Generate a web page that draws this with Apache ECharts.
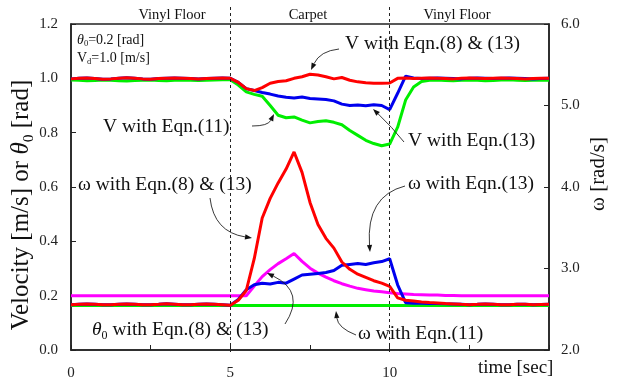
<!DOCTYPE html>
<html><head><meta charset="utf-8">
<script src="https://cdn.jsdelivr.net/npm/echarts@6/dist/echarts.min.js"></script>
<style>html,body{margin:0;padding:0;background:#fff}#c{width:619px;height:381px}</style>
</head><body><div id="c"></div>
<script>
// ---------- data ----------
const time = [0,0.25,0.5,0.75,1,1.25,1.5,1.75,2,2.25,2.5,2.75,3,3.25,3.5,3.75,4,4.25,4.5,4.75,5,5.25,5.5,5.75,6,6.25,6.5,6.75,7,7.25,7.5,7.75,8,8.25,8.5,8.75,9,9.25,9.5,9.75,10,10.25,10.5,10.75,11,11.25,11.5,11.75,12,12.25,12.5,12.75,13,13.25,13.5,13.75,14,14.25,14.5,14.75,15];

// V with Eqn.(8) & (13)  [m/s]
const vRed = [0.998,1.000,1.001,0.999,0.997,0.998,1.000,1.002,1.000,0.998,0.997,0.999,1.000,1.001,1.000,0.999,0.998,0.999,1.000,1.001,1.000,
  0.985,0.962,0.955,0.966,0.982,0.988,0.991,1.000,1.006,1.015,1.012,1.006,0.998,1.003,0.993,0.987,0.984,0.982,0.982,0.983,
  1.000,1.001,0.999,1.000,1.001,1.000,0.999,0.998,1.000,1.001,1.000,0.999,1.000,1.001,1.000,0.999,0.998,0.999,1.000,1.000];
// V with Eqn.(13)
const vBlue = [0.998,1.000,1.001,0.999,0.997,0.998,1.000,1.002,1.000,0.998,0.997,0.999,1.000,1.001,1.000,0.999,0.998,0.999,1.000,1.001,1.000,
  0.985,0.962,0.955,0.948,0.942,0.935,0.930,0.928,0.931,0.926,0.924,0.922,0.917,0.905,0.900,0.902,0.899,0.903,0.900,0.885,
  0.945,1.008,1.001,0.999,1.000,1.001,1.000,0.999,0.998,1.000,1.001,1.000,0.999,1.000,1.001,1.000,0.999,0.998,0.999,1.000];
// V with Eqn.(11)
const vGreen = [0.994,0.993,0.991,0.992,0.994,0.993,0.991,0.990,0.992,0.993,0.994,0.992,0.991,0.993,0.994,0.993,0.992,0.993,0.994,0.995,0.995,
  0.975,0.950,0.941,0.934,0.900,0.864,0.855,0.858,0.846,0.836,0.841,0.844,0.838,0.829,0.808,0.790,0.772,0.760,0.752,0.758,
  0.820,0.920,0.968,0.988,0.993,0.994,0.992,0.991,0.993,0.994,0.993,0.991,0.992,0.994,0.995,0.993,0.992,0.993,0.994,0.993];
// omega with Eqn.(8) & (13)  [rad/s]
const wRed = [2.555,2.560,2.565,2.560,2.555,2.555,2.560,2.565,2.562,2.556,2.555,2.560,2.566,2.562,2.556,2.555,2.560,2.565,2.560,2.555,2.550,
  2.610,2.730,3.120,3.620,3.860,4.050,4.220,4.430,4.180,3.810,3.540,3.370,3.250,3.080,2.990,2.930,2.890,2.850,2.820,2.780,
  2.640,2.610,2.600,2.590,2.582,2.576,2.570,2.565,2.560,2.556,2.560,2.565,2.560,2.555,2.556,2.562,2.560,2.555,2.558,2.560];
// omega with Eqn.(13)
const wBlue = [2.555,2.560,2.565,2.560,2.555,2.555,2.560,2.565,2.562,2.556,2.555,2.560,2.566,2.562,2.556,2.555,2.560,2.565,2.560,2.555,2.550,
  2.620,2.740,2.800,2.820,2.810,2.830,2.820,2.870,2.920,2.930,2.940,2.950,2.975,3.040,3.050,3.060,3.050,3.070,3.085,3.120,
  2.800,2.580,2.575,2.575,2.572,2.570,2.566,2.563,2.560,2.556,2.560,2.565,2.560,2.555,2.556,2.562,2.560,2.555,2.558,2.560];
// omega with Eqn.(11) (constant)
const wGreenTime = [0, 15];
const wGreen = [2.545, 2.545];
// theta0 with Eqn.(8) & (13)  [rad]
const theta = [0.2,0.2,0.2,0.2,0.2,0.2,0.2,0.2,0.2,0.2,0.2,0.2,0.2,0.2,0.2,0.2,0.2,0.2,0.2,0.2,0.2,0.2,0.2,
  0.235,0.270,0.296,0.318,0.336,0.355,0.326,0.301,0.283,0.268,0.255,0.244,0.235,0.227,0.222,0.217,0.214,0.211,
  0.208,0.206,0.204,0.203,0.202,0.202,0.201,0.201,0.2,0.2,0.2,0.2,0.2,0.2,0.2,0.2,0.2,0.2,0.2,0.2];

const regionBounds = [5, 10];
const xTickLabels = [0, 5, 10];

// ---------- helpers ----------
const pair = (xs, ys) => xs.map((x, i) => [x, ys[i]]);
const SERIF = '"Liberation Serif","DejaVu Serif",serif';
const richBase = {
  n: {fontFamily: SERIF, fontSize: 18, lineHeight: 22, fill: '#111'},
  i: {fontFamily: SERIF, fontSize: 18, lineHeight: 22, fontStyle: 'italic', fill: '#111'},
  s: {fontFamily: SERIF, fontSize: 11, lineHeight: 12, verticalAlign: 'bottom', fill: '#111'}
};
function rich(scale) {
  const r = {};
  for (const k in richBase) {
    r[k] = Object.assign({}, richBase[k]);
    r[k].fontSize = Math.round(richBase[k].fontSize * scale * 2) / 2;
    r[k].lineHeight = Math.round(richBase[k].lineHeight * scale);
  }
  return r;
}
function label(text, x, y, size, opts) {
  opts = opts || {};
  return Object.assign({
    type: 'text', x: x, y: y, z: 100, silent: true,
    style: Object.assign({
      text: text, fontFamily: SERIF, fontSize: size, fill: '#111',
      align: 'left', verticalAlign: 'middle', rich: rich(size / 18)
    }, opts.style || {})
  }, opts.el || {});
}
function arrow(x1, y1, cx, cy, x2, y2) {
  const dx = x2 - cx, dy = y2 - cy, L = Math.hypot(dx, dy) || 1;
  const ux = dx / L, uy = dy / L, len = 7, hw = 2.6;
  const bx = x2 - ux * len, by = y2 - uy * len;
  return [
    {type: 'bezierCurve', z: 100, silent: true,
     shape: {x1: x1, y1: y1, cpx1: cx, cpy1: cy, x2: bx, y2: by},
     style: {stroke: '#222', lineWidth: 0.9, fill: null}},
    {type: 'polygon', z: 100, silent: true,
     shape: {points: [[x2, y2], [bx - uy * hw, by + ux * hw], [bx + uy * hw, by - ux * hw]]},
     style: {fill: '#111'}}
  ];
}

const chart = echarts.init(document.getElementById('c'), null, {renderer: 'canvas'});
const axisText = {fontFamily: SERIF, fontSize: 15, color: '#222'};
const lineSeries = (name, data, color, yIdx, z) => ({
  name: name, type: 'line', xAxisIndex: 0, yAxisIndex: yIdx, data: data,
  showSymbol: false, symbol: 'none', z: z,
  lineStyle: {color: color, width: 3}, itemStyle: {color: color}
});
const AF = 19.5; // annotation font size

const option = {
  animation: false,
  backgroundColor: '#fff',
  grid: [
    {left: 71, right: 70, top: 24, bottom: 29, show: true, borderColor: '#222', borderWidth: 1.5, backgroundColor: 'transparent'},
    {left: 71, right: 70, top: 7, bottom: 29, show: false}
  ],
  xAxis: [
    {type: 'value', gridIndex: 0, min: 0, max: 15, interval: 2.5,
     axisLine: {show: true, lineStyle: {color: '#222', width: 1.5}},
     axisTick: {show: true, inside: true, length: 5, lineStyle: {color: '#222'}},
     splitLine: {show: false},
     axisLabel: Object.assign({margin: 16, formatter: v => xTickLabels.indexOf(v) >= 0 ? String(v) : ''}, axisText)},
    {type: 'value', gridIndex: 1, min: 0, max: 15, show: false}
  ],
  yAxis: [
    {type: 'value', gridIndex: 0, min: 0, max: 1.2, interval: 0.2, position: 'left',
     axisLine: {show: true, lineStyle: {color: '#222', width: 1.5}},
     axisTick: {show: true, inside: true, length: 5, lineStyle: {color: '#222'}},
     splitLine: {show: false},
     axisLabel: Object.assign({margin: 13, formatter: v => v.toFixed(1)}, axisText)},
    {type: 'value', gridIndex: 0, min: 2, max: 6, interval: 1, position: 'right',
     axisLine: {show: true, lineStyle: {color: '#222', width: 1.5}},
     axisTick: {show: true, inside: true, length: 5, lineStyle: {color: '#222'}},
     splitLine: {show: false},
     axisLabel: Object.assign({margin: 12, formatter: v => v.toFixed(1)}, axisText)},
    {type: 'value', gridIndex: 1, min: 0, max: 1, show: false}
  ],
  series: [
    {type: 'line', xAxisIndex: 1, yAxisIndex: 2, data: [], silent: true,
     markLine: {silent: true, symbol: 'none', label: {show: false},
       lineStyle: {color: '#222', type: [3, 3], width: 1},
       data: regionBounds.map(b => ({xAxis: b}))}},
    lineSeries('V with Eqn.(11)', pair(time, vGreen), '#00ee00', 0, 2),
    lineSeries('V with Eqn.(13)', pair(time, vBlue), '#0000ee', 0, 3),
    lineSeries('V with Eqn.(8) & (13)', pair(time, vRed), '#ff0000', 0, 4),
    lineSeries('ω with Eqn.(11)', pair(wGreenTime, wGreen), '#00ee00', 1, 2),
    lineSeries('θ0 with Eqn.(8) & (13)', pair(time, theta), '#ff00ff', 0, 3),
    lineSeries('ω with Eqn.(13)', pair(time, wBlue), '#0000ee', 1, 3),
    lineSeries('ω with Eqn.(8) & (13)', pair(time, wRed), '#ff0000', 1, 4)
  ],
  graphic: [].concat(
    // region names
    label('Vinyl Floor', 172, 15, 14.5, {style: {align: 'center'}}),
    label('Carpet', 308, 15, 14.5, {style: {align: 'center'}}),
    label('Vinyl Floor', 457, 15, 14.5, {style: {align: 'center'}}),
    // parameters
    label('{i|θ}{s|0}{n|=0.2 [rad]}', 77, 40, 14),
    label('{n|V}{s|d}{n|=1.0 [m/s]}', 77, 58, 14),
    // axis titles
    label('{n|Velocity [m/s] or }{i|θ}{s|0}{n| [rad]}', 21, 205, 25, {style: {align: 'center'}, el: {rotation: Math.PI / 2}}),
    label('ω [rad/s]', 598, 174, 21, {style: {align: 'center'}, el: {rotation: Math.PI / 2}}),
    label('time [sec]', 478, 368, 19),
    // annotations
    label('V with Eqn.(8) & (13)', 345, 44, AF),
    label('V with Eqn.(11)', 103, 127, AF),
    label('V with Eqn.(13)', 408, 141, AF),
    label('ω with Eqn.(8) & (13)', 78, 185, AF),
    label('ω with Eqn.(13)', 408, 184, AF),
    label('{i|θ}{s|0}{n| with Eqn.(8) & (13)}', 92, 330, AF),
    label('ω with Eqn.(11)', 358, 334, AF),
    // arrows
    arrow(339, 49, 320, 51, 311, 70),
    arrow(252, 126, 268, 126, 274, 114),
    arrow(404, 142, 392, 127, 373, 109),
    arrow(210, 198, 214, 232, 252, 238),
    arrow(405, 186, 366, 196, 370, 252),
    arrow(285, 324, 306, 292, 267, 273),
    arrow(356, 335, 338, 328, 336, 311)
  )
};
chart.setOption(option);
</script>
</body></html>
